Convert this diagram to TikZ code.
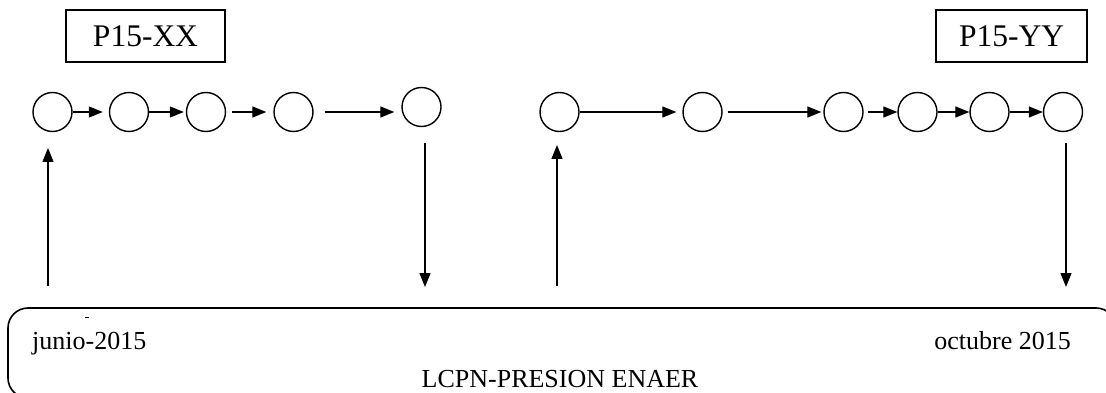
\documentclass[tikz,border=0pt]{standalone}
\usepackage{fontspec}
\setmainfont{Liberation Serif}
\usetikzlibrary{arrows.meta}

\tikzset{
  stage/.style={circle,draw,line width=1.4pt,minimum size=39pt,inner sep=0pt},
  tag/.style={rectangle,draw,line width=2.2pt,minimum width=153pt,minimum height=52pt,
              inner sep=0pt,font=\fontsize{31.5}{36}\selectfont},
  flow/.style={line width=1.3pt,-{Triangle[length=14pt,width=11pt]}},
  stamp/.style={inner sep=0pt,font=\fontsize{26}{30}\selectfont}
}

\begin{document}
\begin{tikzpicture}[x=1pt,y=-1pt]
  \useasboundingbox (0,0) rectangle (1106,393);

  % project tags
  \node[tag,minimum width=159pt] (xx) at (145.5,36) {P15-XX};
  \node[tag,minimum width=151pt] (yy) at (1011.5,36) {P15-YY};

  % stages
  \foreach \name/\x/\y in {c1/52.5/112,c2/129/112,c3/206/112,c4/293.5/112,c5/421.5/107,
                           c6/559.5/112,c7/702.5/112,c8/843.5/112,c9/917.5/112,
                           c10/989.5/112,c11/1063/112}
    \node[stage] (\name) at (\x,\y) {};

  \foreach \from/\to/\pre/\post in {c1/c2/0/6,c2/c3/0/2,c3/c4/6/7,
                                    c6/c7/0/6,c7/c8/5/2,c8/c9/4/0,c9/c10/0/0,c10/c11/0/0}
    \draw[flow,shorten <=\pre pt,shorten >=\post pt] (\from) -- (\to);
  \draw[flow,shorten <=11pt,shorten >=7pt] (c4.east) -- (c4.east -| c5.west);

  % timeline
  \draw[line width=1.6pt,rounded corners=20pt] (8,308) rectangle (1116,398);
  \draw[line width=0.8pt] (85,317) -- (89,317);
  \node[stamp,anchor=base west] (start) at (32,349) {junio-2015};
  \node[stamp,anchor=base east] (end) at (1071,349) {octubre 2015};
  \node[stamp,anchor=base] (line) at (560,387) {LCPN-PRESION ENAER};

  \coordinate (in1) at (48,286);   \coordinate (top1) at (48,148);
  \coordinate (out1) at (425,143); \coordinate (bot1) at (425,287);
  \coordinate (in2) at (557,286);  \coordinate (top2) at (557,145);
  \coordinate (out2) at (1066,143);\coordinate (bot2) at (1066,287);
  \draw[flow] (in1) -- (top1);
  \draw[flow] (out1) -- (bot1);
  \draw[flow] (in2) -- (top2);
  \draw[flow] (out2) -- (bot2);
\end{tikzpicture}
\end{document}
